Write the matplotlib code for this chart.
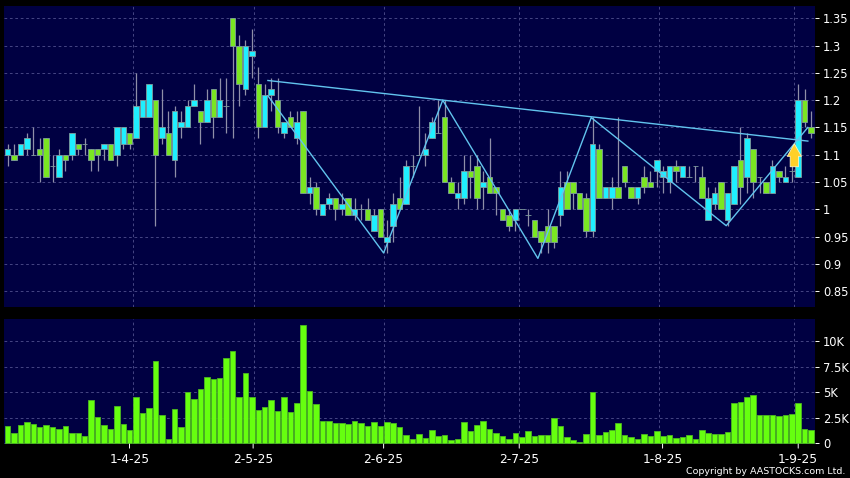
import numpy as np
import matplotlib
matplotlib.use("Agg")
import matplotlib.pyplot as plt

opens = [1.10, 1.10, 1.10, 1.11, 1.10, 1.11, 1.13, 1.08, 1.06, 1.10,
         1.10, 1.12, 1.12, 1.11, 1.11, 1.11, 1.12, 1.10, 1.12, 1.14,
         1.13, 1.17, 1.17, 1.20, 1.13, 1.14, 1.09, 1.15, 1.15, 1.19,
         1.18, 1.16, 1.22, 1.17, 1.19, 1.35, 1.30, 1.22, 1.28, 1.23,
         1.15, 1.21, 1.20, 1.14, 1.17, 1.13, 1.18, 1.03, 1.04, 0.99,
         1.01, 1.02, 1.00, 1.02, 0.99, 1.00, 1.00, 0.96, 1.00, 0.94,
         0.97, 1.02, 1.01, 1.08, 1.10, 1.10, 1.13, 1.14, 1.17, 1.05,
         1.02, 1.02, 1.07, 1.08, 1.04, 1.06, 1.04, 1.00, 0.99, 0.98,
         1.00, 0.99, 0.98, 0.96, 0.97, 0.97, 0.99, 1.05, 1.05, 1.03,
         1.02, 0.96, 1.11, 1.02, 1.02, 1.04, 1.08, 1.04, 1.02, 1.06,
         1.05, 1.07, 1.06, 1.05, 1.08, 1.06, 1.06, 1.08, 1.06, 0.98,
         1.01, 1.05, 0.98, 1.01, 1.09, 1.06, 1.11, 1.06, 1.05, 1.03,
         1.07, 1.05, 1.07, 1.06, 1.20, 1.15]
closes = [1.11, 1.09, 1.12, 1.13, 1.10, 1.10, 1.06, 1.08, 1.10, 1.09,
          1.14, 1.11, 1.12, 1.09, 1.10, 1.12, 1.09, 1.15, 1.15, 1.12,
          1.19, 1.20, 1.23, 1.10, 1.15, 1.10, 1.18, 1.16, 1.19, 1.20,
          1.16, 1.20, 1.17, 1.20, 1.19, 1.30, 1.23, 1.30, 1.29, 1.15,
          1.21, 1.22, 1.15, 1.16, 1.15, 1.16, 1.03, 1.04, 1.00, 1.01,
          1.02, 1.00, 1.01, 0.99, 1.00, 1.00, 0.98, 0.99, 0.95, 0.95,
          1.01, 1.00, 1.08, 1.08, 1.10, 1.11, 1.16, 1.14, 1.05, 1.03,
          1.03, 1.07, 1.06, 1.02, 1.05, 1.03, 1.03, 0.98, 0.97, 1.00,
          1.00, 0.99, 0.95, 0.94, 0.94, 0.94, 1.04, 1.00, 1.03, 1.00,
          0.96, 1.12, 1.02, 1.04, 1.04, 1.02, 1.05, 1.02, 1.04, 1.04,
          1.04, 1.09, 1.07, 1.08, 1.07, 1.08, 1.06, 1.08, 1.02, 1.02,
          1.03, 1.00, 1.03, 1.08, 1.04, 1.13, 1.05, 1.06, 1.03, 1.08,
          1.06, 1.06, 1.07, 1.20, 1.16, 1.14]
highs = [1.12, 1.12, 1.12, 1.14, 1.15, 1.13, 1.13, 1.10, 1.11, 1.10,
         1.14, 1.12, 1.13, 1.11, 1.11, 1.12, 1.12, 1.15, 1.15, 1.14,
         1.25, 1.20, 1.23, 1.20, 1.22, 1.18, 1.19, 1.18, 1.20, 1.23,
         1.18, 1.22, 1.22, 1.24, 1.24, 1.35, 1.32, 1.31, 1.33, 1.26,
         1.23, 1.24, 1.24, 1.16, 1.18, 1.18, 1.18, 1.06, 1.05, 1.01,
         1.03, 1.02, 1.03, 1.02, 1.02, 1.01, 1.02, 1.00, 1.00, 0.98,
         1.03, 1.06, 1.09, 1.10, 1.19, 1.14, 1.17, 1.20, 1.20, 1.06,
         1.05, 1.10, 1.10, 1.10, 1.07, 1.13, 1.04, 1.00, 1.00, 1.00,
         1.00, 1.00, 0.98, 0.96, 1.00, 0.97, 1.07, 1.07, 1.05, 1.03,
         1.03, 1.17, 1.12, 1.04, 1.06, 1.17, 1.08, 1.04, 1.04, 1.08,
         1.07, 1.09, 1.08, 1.08, 1.09, 1.08, 1.08, 1.08, 1.08, 1.04,
         1.04, 1.05, 1.03, 1.08, 1.15, 1.14, 1.11, 1.06, 1.05, 1.09,
         1.07, 1.08, 1.08, 1.23, 1.22, 1.18]
lows = [1.08, 1.09, 1.10, 1.10, 1.10, 1.05, 1.06, 1.05, 1.06, 1.07,
        1.09, 1.10, 1.10, 1.07, 1.07, 1.09, 1.09, 1.08, 1.11, 1.11,
        1.13, 1.17, 1.17, 0.97, 1.12, 1.10, 1.06, 1.13, 1.15, 1.19,
        1.12, 1.16, 1.13, 1.17, 1.14, 1.13, 1.19, 1.21, 1.24, 1.13,
        1.15, 1.18, 1.14, 1.13, 1.15, 1.12, 1.03, 1.01, 0.99, 0.99,
        1.00, 0.98, 0.99, 0.99, 0.98, 0.98, 0.98, 0.96, 0.95, 0.92,
        0.94, 1.00, 1.01, 1.06, 1.10, 1.08, 1.13, 1.14, 1.05, 1.03,
        1.00, 1.01, 1.02, 1.00, 1.00, 1.03, 0.99, 0.98, 0.96, 0.96,
        1.00, 0.97, 0.95, 0.92, 0.92, 0.93, 0.97, 1.00, 1.00, 1.00,
        0.95, 0.95, 1.02, 1.02, 1.00, 1.02, 1.04, 1.02, 1.01, 1.03,
        1.04, 1.04, 1.03, 1.03, 1.05, 1.06, 1.06, 1.05, 1.02, 0.98,
        1.00, 1.00, 0.97, 1.01, 1.01, 1.03, 1.02, 1.03, 1.03, 1.03,
        1.05, 1.05, 1.05, 1.06, 1.15, 1.13]
volumes = [1.73, 0.98, 1.80, 2.09, 1.93, 1.60, 1.80, 1.60, 1.44, 1.67,
           1.05, 0.98, 0.69, 4.20, 2.55, 1.83, 1.37, 3.70, 1.90, 1.27,
           4.58, 3.00, 3.46, 8.10, 2.75, 0.46, 3.33, 1.60, 5.00, 4.35,
           5.33, 6.47, 6.30, 6.44, 8.37, 9.08, 4.54, 6.93, 4.58, 3.27,
           3.56, 4.28, 3.17, 4.54, 3.04, 3.99, 11.60, 5.13, 3.82, 2.22,
           2.16, 1.96, 2.00, 1.93, 2.16, 2.03, 1.73, 2.09, 1.73, 2.12,
           1.96, 1.57, 0.78, 0.39, 0.88, 0.56, 1.27, 0.72, 0.85, 0.33,
           0.42, 2.06, 1.24, 1.80, 2.22, 1.37, 1.05, 0.75, 0.46, 1.05,
           0.62, 1.20, 0.75, 0.82, 0.78, 2.48, 1.67, 0.65, 0.33, 0.10,
           0.92, 5.07, 0.82, 1.14, 1.27, 1.96, 0.82, 0.62, 0.46, 0.88,
           0.75, 1.18, 0.69, 0.82, 0.56, 0.62, 0.78, 0.42, 1.31, 0.98,
           0.92, 0.95, 1.11, 3.92, 4.05, 4.54, 4.74, 2.78, 2.75, 2.78,
           2.68, 2.81, 2.88, 3.99, 1.40, 1.34]

neck_x = [40.5, 124.5]
neck_y = [1.236, 1.125]
zig_x = [40.5, 58.5, 67.7, 82.5, 90.8, 111.8, 124.5]
zig_y = [1.208, 0.92, 1.20, 0.91, 1.168, 0.97, 1.15]

price_ticks = [0.85, 0.9, 0.95, 1, 1.05, 1.1, 1.15, 1.2, 1.25, 1.3, 1.35]
price_labels = ['0.85', '0.9', '0.95', '1', '1.05', '1.1', '1.15', '1.2', '1.25', '1.3', '1.35']
vol_ticks = [0, 2.5, 5, 7.5, 10]
vol_labels = ['0', '2.5K', '5K', '7.5K', '10K']
grid_x = [19.44, 38.4, 58.5, 79.5, 101.4, 122.3]
date_x = [18.97, 38.2, 58.5, 79.6, 101.9, 123.0]
date_labels = ['1-4-25', '2-5-25', '2-6-25', '2-7-25', '1-8-25', '1-9-25']

BG = '#000042'
GRID = '#4a4a88'
CYAN = '#1fefff'
GREEN = '#7ae622'
W, H = 850, 478


def panel(top, bottom):
    left, right = 4.3, 814.6
    return [left / W, 1 - bottom / H, (right - left) / W, (bottom - top) / H]


def style(ax, ticks, labels):
    ax.set_facecolor(BG)
    ax.set_axisbelow(True)
    ax.set_xlim(-0.51, 125.55)
    ax.grid(True, color=GRID, lw=0.65, ls=(0, (3, 3)))
    ax.set_xticks(grid_x)
    ax.yaxis.tick_right()
    ax.set_yticks(ticks)
    ax.set_yticklabels(labels)
    ax.tick_params(axis='y', colors='white', labelsize=8.3, length=3, width=0.7, pad=3)
    ax.tick_params(axis='x', length=0, labelbottom=False)
    for s in ax.spines.values():
        s.set_visible(False)


fig = plt.figure(figsize=(W / 100, H / 100), dpi=100, facecolor='black')

ax = fig.add_axes(panel(5.7, 307.3))
style(ax, price_ticks, price_labels)
ax.set_ylim(0.8205, 1.373)
x = np.arange(len(opens))
o = np.array(opens)
c = np.array(closes)
colors = [CYAN if b > a else GREEN for a, b in zip(o, c)]
ax.vlines(x, lows, highs, color='#8f8fa8', lw=0.9, zorder=2)
ax.bar(x, c - o, bottom=o, width=0.86, color=colors, edgecolor='#7f9c9c', lw=0.6, zorder=3)

ax.plot(neck_x, neck_y, color='#62c4ee', lw=1.0, zorder=4)
ax.plot(zig_x, zig_y, color='#62c4ee', lw=1.0, zorder=4)

# breakout arrow
ax.annotate('', xy=(122.4, 1.12), xytext=(122.4, 1.078), zorder=5,
            arrowprops=dict(arrowstyle='simple,head_length=0.75,head_width=0.85,tail_width=0.5',
                            mutation_scale=12, fc='#ffd028', ec='#fff4c0', lw=0.6,
                            shrinkA=0, shrinkB=0))

ax2 = fig.add_axes(panel(319.3, 444))
style(ax2, vol_ticks, vol_labels)
ax2.set_ylim(-0.07, 12.16)
ax2.bar(x, volumes, width=0.86, color='#66ff0f', edgecolor='#4cb820', lw=0.6, zorder=3)

# date labels sit under their own small ticks, a bit off the grid lines
for pos, lab in zip(date_x, date_labels):
    ax2.annotate('', xy=(pos, 0), xycoords=('data', 'axes fraction'), xytext=(0, -3),
                 textcoords='offset points', arrowprops=dict(arrowstyle='-', color='white', lw=0.7, shrinkA=0, shrinkB=0))
    ax2.annotate(lab, xy=(pos, 0), xycoords=('data', 'axes fraction'), xytext=(0, -6.5),
                 textcoords='offset points', ha='center', va='top', color='white', fontsize=8.8)

fig.text(845.5 / W, 1 - 471 / H, 'Copyright by AASTOCKS.com Ltd.', color='white', fontsize=6.8,
         ha='right', va='center')

fig.savefig('out.png', dpi=100, facecolor='black')
